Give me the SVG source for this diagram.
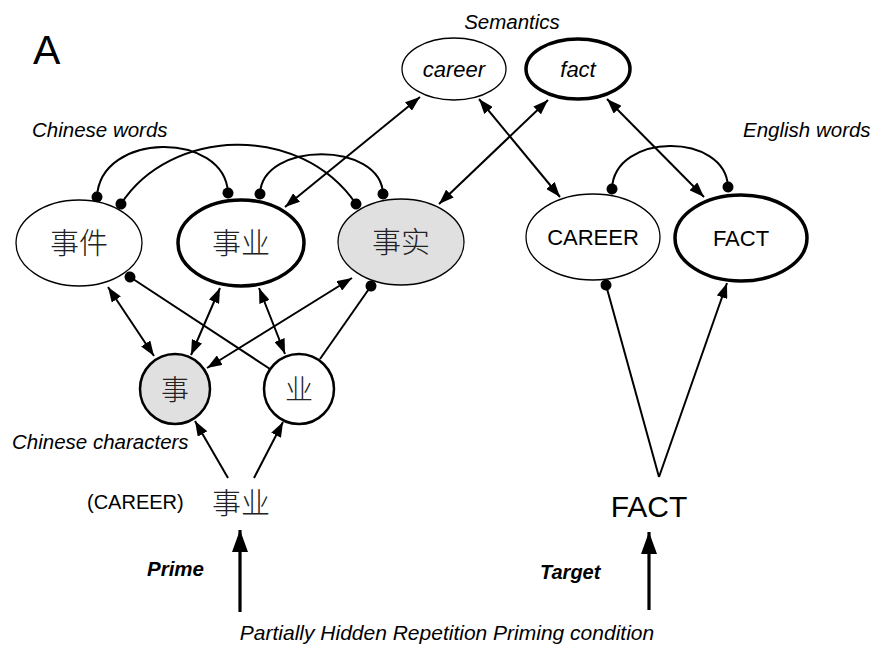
<svg xmlns="http://www.w3.org/2000/svg" width="873" height="656" viewBox="0 0 873 656">
<style>
  .lbl { font-family: "Liberation Sans", Arial, sans-serif; font-style: italic; font-size: 20.5px; fill: #000; }
  .en { font-family: "Liberation Sans", Arial, sans-serif; font-size: 22px; fill: #000; text-anchor: middle; }
  .sem { font-family: "Liberation Sans", Arial, sans-serif; font-style: italic; font-size: 22px; fill: #000; text-anchor: middle; }
  .zh { font-family: "Noto Sans CJK SC", "Noto Sans CJK TC", sans-serif; font-weight: 300; font-size: 29px; fill: #222; text-anchor: middle; }
  .thin { fill: #fff; stroke: #000; stroke-width: 1.3; }
  .thick { fill: #fff; stroke: #000; stroke-width: 3.5; }
  .circ { stroke: #000; stroke-width: 2.5; }
  .c { fill: none; stroke: #000; stroke-width: 2; }
  .big { fill: none; stroke: #000; stroke-width: 3.2; }
</style>
<defs>
  <marker id="ah" viewBox="0 0 15 11" refX="15" refY="5.5" markerWidth="15" markerHeight="11" markerUnits="userSpaceOnUse" orient="auto-start-reverse">
    <path d="M0,0 L15,5.5 L0,11 z" fill="#000"/>
  </marker>
  <marker id="dot" viewBox="0 0 12 12" refX="6" refY="6" markerWidth="12" markerHeight="12" markerUnits="userSpaceOnUse" orient="auto">
    <circle cx="6" cy="6" r="5.5" fill="#000"/>
  </marker>
  <marker id="bigah" viewBox="0 0 16 22" refX="8" refY="0" markerWidth="16" markerHeight="22" markerUnits="userSpaceOnUse" orient="0">
    <path d="M8,0 L16,22 L0,22 z" fill="#000"/>
  </marker>
</defs>

<text x="33" y="64" font-family="Liberation Sans, Arial, sans-serif" font-size="41">A</text>
<text class="lbl" x="512" y="29" text-anchor="middle">Semantics</text>
<text class="lbl" x="32" y="137">Chinese words</text>
<text class="lbl" x="743" y="137">English words</text>
<text class="lbl" x="12" y="449">Chinese characters</text>

<g id="connectors">
  <path class="c" d="M97,197 C100,131 225,131 228,193" marker-start="url(#dot)" marker-end="url(#dot)"/>
  <path class="c" d="M121,204 C170,128 300,122 356,204" marker-start="url(#dot)" marker-end="url(#dot)"/>
  <path class="c" d="M260,194 C262,141 381,141 383,194" marker-start="url(#dot)" marker-end="url(#dot)"/>
  <path class="c" d="M612,189 C614,132 726,132 728,187" marker-start="url(#dot)" marker-end="url(#dot)"/>
  <line class="c" x1="285" y1="207" x2="420" y2="97" marker-start="url(#ah)" marker-end="url(#ah)"/>
  <line class="c" x1="560" y1="197" x2="479" y2="99" marker-start="url(#ah)" marker-end="url(#ah)"/>
  <line class="c" x1="439" y1="204" x2="548" y2="100" marker-start="url(#ah)" marker-end="url(#ah)"/>
  <line class="c" x1="704" y1="197" x2="607" y2="99" marker-start="url(#ah)" marker-end="url(#ah)"/>
  <line class="c" x1="154" y1="356" x2="108" y2="287" marker-start="url(#ah)" marker-end="url(#ah)"/>
  <line class="c" x1="191" y1="355" x2="220" y2="288" marker-start="url(#ah)" marker-end="url(#ah)"/>
  <line class="c" x1="285" y1="354" x2="259" y2="288" marker-start="url(#ah)" marker-end="url(#ah)"/>
  <line class="c" x1="207" y1="368" x2="352" y2="278" marker-start="url(#ah)" marker-end="url(#ah)"/>
  <line class="c" x1="270" y1="369" x2="130" y2="277" marker-end="url(#dot)"/>
  <line class="c" x1="320" y1="359" x2="371" y2="286" marker-end="url(#dot)"/>
  <line class="c" x1="228" y1="478" x2="195" y2="421" marker-end="url(#ah)"/>
  <line class="c" x1="254" y1="478" x2="283" y2="422" marker-end="url(#ah)"/>
  <line class="c" x1="659" y1="477" x2="606" y2="285" marker-end="url(#dot)"/>
  <line class="c" x1="659" y1="477" x2="727" y2="283" marker-end="url(#ah)"/>
  <line class="big" x1="240" y1="612" x2="240" y2="530" marker-end="url(#bigah)"/>
  <line class="big" x1="649" y1="610" x2="649" y2="532" marker-end="url(#bigah)"/>
</g>

<g id="sem-career"><ellipse class="thin" cx="454" cy="69" rx="52" ry="31"/><text class="sem" x="454" y="77">career</text></g>
<g id="sem-fact"><ellipse class="thick" cx="578" cy="69" rx="52" ry="30"/><text class="sem" x="578" y="77">fact</text></g>
<g id="w-shijian"><ellipse class="thin" cx="79" cy="243" rx="63" ry="43"/><text class="zh" x="79" y="254">事件</text></g>
<g id="w-shiye"><ellipse class="thick" cx="241" cy="243" rx="63" ry="43"/><text class="zh" x="241" y="254">事业</text></g>
<g id="w-shishi"><ellipse class="thin" style="fill:#e0e0e0" cx="401" cy="242" rx="63" ry="43"/><text class="zh" x="401" y="253">事实</text></g>
<g id="w-career"><ellipse class="thin" cx="593" cy="237" rx="67" ry="43"/><text class="en" x="593" y="245">CAREER</text></g>
<g id="w-fact"><ellipse class="thick" cx="741" cy="238" rx="66" ry="43"/><text class="en" x="741" y="246">FACT</text></g>
<g id="c-shi"><circle class="circ" fill="#e0e0e0" cx="175" cy="389" r="35"/><text class="zh" style="font-size:28px" x="175" y="400">事</text></g>
<g id="c-ye"><circle class="circ" fill="#fff" cx="299" cy="389" r="35"/><text class="zh" style="font-size:28px" x="299" y="400">业</text></g>

<g id="prime">
  <text x="87" y="509" font-family="Liberation Sans, Arial, sans-serif" font-size="20">(CAREER)</text>
  <text class="zh" x="241" y="514">事业</text>
  <text x="147" y="576" font-family="Liberation Sans, Arial, sans-serif" font-size="20.5" font-weight="bold" font-style="italic">Prime</text>
</g>
<g id="target">
  <text x="649" y="517" font-family="Liberation Sans, Arial, sans-serif" font-size="30" text-anchor="middle">FACT</text>
  <text x="540" y="579" font-family="Liberation Sans, Arial, sans-serif" font-size="20" font-weight="bold" font-style="italic">Target</text>
</g>
<text class="lbl" x="447" y="640" text-anchor="middle" style="font-size:21px">Partially Hidden Repetition Priming condition</text>
</svg>
